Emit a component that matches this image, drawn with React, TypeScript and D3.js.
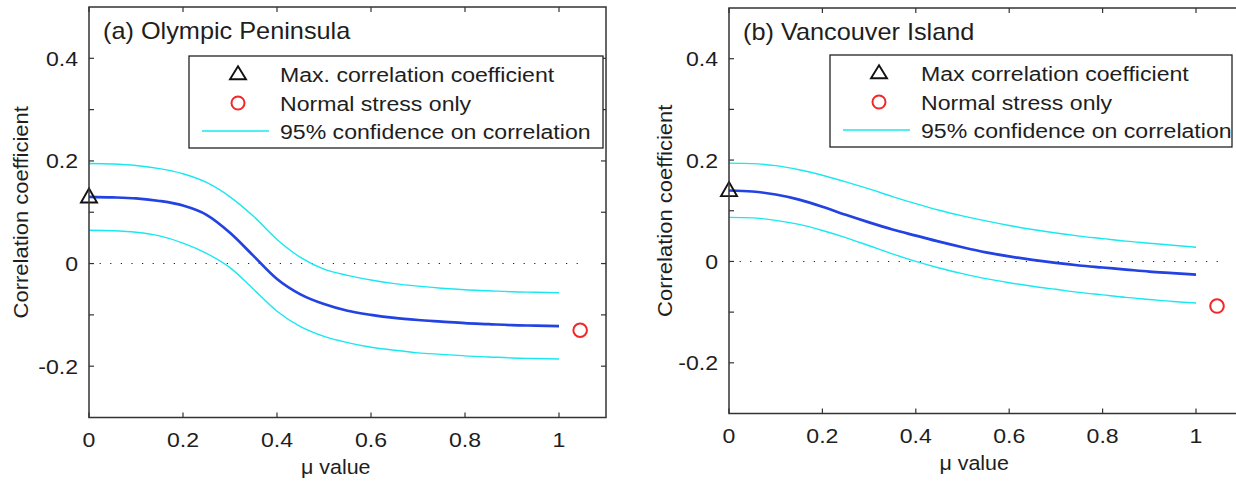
import React from "react";
import * as d3 from "d3";

// ---------- data ----------
const muGrid = [0, 0.05, 0.1, 0.15, 0.2, 0.25, 0.3, 0.35, 0.4, 0.45, 0.5, 0.55, 0.6, 0.65, 0.7, 0.75, 0.8, 0.85, 0.9, 0.95, 1.0];

const olympicCorr = [0.130, 0.129, 0.127, 0.122, 0.113, 0.095, 0.060, 0.015, -0.030, -0.060, -0.079, -0.092, -0.100, -0.106, -0.110, -0.113, -0.116, -0.118, -0.120, -0.121, -0.122];
const olympicUpper = [0.195, 0.194, 0.191, 0.185, 0.175, 0.158, 0.130, 0.092, 0.047, 0.012, -0.011, -0.023, -0.032, -0.039, -0.044, -0.048, -0.051, -0.053, -0.055, -0.056, -0.057];
const olympicLower = [0.065, 0.064, 0.061, 0.054, 0.040, 0.020, -0.008, -0.050, -0.093, -0.123, -0.142, -0.154, -0.163, -0.169, -0.174, -0.177, -0.180, -0.182, -0.184, -0.185, -0.186];
const olympicMax = { mu: 0, r: 0.13 };
const olympicNormal = { mu: 1.045, r: -0.13 };

const vancouverCorr = [0.140, 0.138, 0.132, 0.122, 0.108, 0.092, 0.077, 0.063, 0.051, 0.039, 0.028, 0.018, 0.010, 0.003, -0.003, -0.008, -0.012, -0.016, -0.020, -0.023, -0.026];
const vancouverUpper = [0.194, 0.193, 0.189, 0.181, 0.170, 0.157, 0.143, 0.128, 0.114, 0.101, 0.090, 0.080, 0.071, 0.063, 0.056, 0.050, 0.045, 0.040, 0.036, 0.032, 0.028];
const vancouverLower = [0.087, 0.086, 0.081, 0.073, 0.061, 0.047, 0.031, 0.015, 0.000, -0.013, -0.024, -0.034, -0.042, -0.049, -0.055, -0.061, -0.066, -0.071, -0.075, -0.079, -0.082];
const vancouverMax = { mu: 0, r: 0.14 };
const vancouverNormal = { mu: 1.045, r: -0.088 };

const xTickValues = [0, 0.2, 0.4, 0.6, 0.8, 1];
const xTickLabels = ["0", "0.2", "0.4", "0.6", "0.8", "1"];
const yMinorTicks = [-0.2, -0.1, 0, 0.1, 0.2, 0.3, 0.4];
const yTickValues = [-0.2, 0, 0.2, 0.4];
const yTickLabels = ["-0.2", "0", "0.2", "0.4"];
const xDomain: [number, number] = [0, 1.1];
const yDomain: [number, number] = [-0.3, 0.5];
const zeroLineEnd = 1.05;
const xLabelAt = 0.525;

const legendOlympic = ["Max. correlation coefficient", "Normal stress only", "95% confidence on correlation"];
const legendVancouver = ["Max correlation coefficient", "Normal stress only", "95% confidence on correlation"];

// ---------- style ----------
const FONT = "'Liberation Sans', Arial, Helvetica, sans-serif";
const SX = 1.1;
const AXIS = "#333";
const TEXT = "#1e1e1e";
const BLUE = "#2242e2";
const CYAN = "#19e8f0";
const RED = "#f02828";

function T({ x, y, size, anchor = "start", rotate = 0, children, fill = TEXT }: any) {
  return (
    <text
      transform={`translate(${x},${y}) rotate(${rotate}) scale(${SX},1)`}
      fontFamily={FONT}
      fontSize={size}
      textAnchor={anchor}
      fill={fill}
    >
      {children}
    </text>
  );
}

function triPath(cx: number, cy: number, w: number, h: number) {
  return `M${cx},${cy - h * 0.6} L${cx + w / 2},${cy + h * 0.4} L${cx - w / 2},${cy + h * 0.4} Z`;
}

function Panel({ px0, px1, pyTop, pyBot, corr, upper, lower, maxPt, normalPt, title, legend, legendBox, ylabelX }: any) {
  const x = d3.scaleLinear().domain(xDomain).range([px0, px1]);
  const y = d3.scaleLinear().domain(yDomain).range([pyBot, pyTop]);
  const line = (vals: number[]) =>
    d3
      .line<number>()
      .x((_, i) => x(muGrid[i]))
      .y((v) => y(v))
      .curve(d3.curveMonotoneX)(vals) || "";
  const tick = 5;
  const [lx, ly, lw, lh] = legendBox;
  const rowY = [ly + 18, ly + 47, ly + 75];
  return (
    <g>
      {/* zero line */}
      <line x1={x(0)} x2={x(zeroLineEnd)} y1={y(0)} y2={y(0)} stroke="#222" strokeWidth={1.1} strokeDasharray="1.2 9.4" />
      {/* curves */}
      <path d={line(upper)} fill="none" stroke={CYAN} strokeWidth={1.4} />
      <path d={line(lower)} fill="none" stroke={CYAN} strokeWidth={1.4} />
      <path d={line(corr)} fill="none" stroke={BLUE} strokeWidth={2.7} />
      {/* markers */}
      <path d={triPath(x(maxPt.mu), y(maxPt.r), 16, 14)} fill="none" stroke="#111" strokeWidth={1.9} strokeLinejoin="miter" />
      <circle cx={x(normalPt.mu)} cy={y(normalPt.r)} r={6.8} fill="none" stroke={RED} strokeWidth={2} />
      {/* axes box */}
      <rect x={px0} y={pyTop} width={px1 - px0} height={pyBot - pyTop} fill="none" stroke={AXIS} strokeWidth={1.5} />
      {xTickValues.map((v) => (
        <g key={"xt" + v}>
          <line x1={x(v)} x2={x(v)} y1={pyBot} y2={pyBot - tick} stroke={AXIS} strokeWidth={1.2} />
          <line x1={x(v)} x2={x(v)} y1={pyTop} y2={pyTop + tick} stroke={AXIS} strokeWidth={1.2} />
        </g>
      ))}
      {yMinorTicks.map((v) => (
        <g key={"yt" + v}>
          <line x1={px0} x2={px0 + tick} y1={y(v)} y2={y(v)} stroke={AXIS} strokeWidth={1.2} />
          <line x1={px1} x2={px1 - tick} y1={y(v)} y2={y(v)} stroke={AXIS} strokeWidth={1.2} />
        </g>
      ))}
      {xTickValues.map((v, i) => (
        <T key={"xl" + v} x={x(v)} y={pyBot + 29} size={21} anchor="middle">
          {xTickLabels[i]}
        </T>
      ))}
      {yTickValues.map((v, i) => (
        <T key={"yl" + v} x={px0 - 11} y={y(v) + 7.5} size={21} anchor="end">
          {yTickLabels[i]}
        </T>
      ))}
      <T x={x(xLabelAt)} y={pyBot + 56} size={19.5} anchor="middle">
        μ value
      </T>
      <T x={ylabelX} y={(pyTop + pyBot) / 2} size={20} anchor="middle" rotate={-90}>
        Correlation coefficient
      </T>
      <T x={px0 + 14} y={pyTop + 32} size={23}>
        {title}
      </T>
      {/* legend */}
      <rect x={lx} y={ly} width={lw} height={lh} fill="#fff" stroke="#222" strokeWidth={1.3} />
      <path d={triPath(lx + 49, rowY[0], 16, 13)} fill="none" stroke="#111" strokeWidth={1.9} />
      <circle cx={lx + 49} cy={rowY[1]} r={6.5} fill="none" stroke={RED} strokeWidth={2} />
      <line x1={lx + 13} x2={lx + 80} y1={rowY[2]} y2={rowY[2]} stroke={CYAN} strokeWidth={1.6} />
      {legend.map((s: string, i: number) => (
        <T key={s} x={lx + 91} y={rowY[i] + 8} size={21}>
          {s}
        </T>
      ))}
    </g>
  );
}

export default function App() {
  return (
    <svg width={1236} height={482} style={{ position: "absolute", left: 0, top: 0, background: "#fff" }}>
      <rect x={0} y={0} width={1236} height={482} fill="#fff" />
      <Panel
        px0={89}
        px1={606}
        pyTop={7}
        pyBot={417.5}
        corr={olympicCorr}
        upper={olympicUpper}
        lower={olympicLower}
        maxPt={olympicMax}
        normalPt={olympicNormal}
        title="(a) Olympic Peninsula"
        legend={legendOlympic}
        legendBox={[189, 56, 414, 92]}
        ylabelX={28}
      />
      <Panel
        px0={729}
        px1={729 + 1.1 * 467}
        pyTop={8}
        pyBot={413.5}
        corr={vancouverCorr}
        upper={vancouverUpper}
        lower={vancouverLower}
        maxPt={vancouverMax}
        normalPt={vancouverNormal}
        title="(b) Vancouver Island"
        legend={legendVancouver}
        legendBox={[830, 55, 402, 92]}
        ylabelX={672}
      />
    </svg>
  );
}
